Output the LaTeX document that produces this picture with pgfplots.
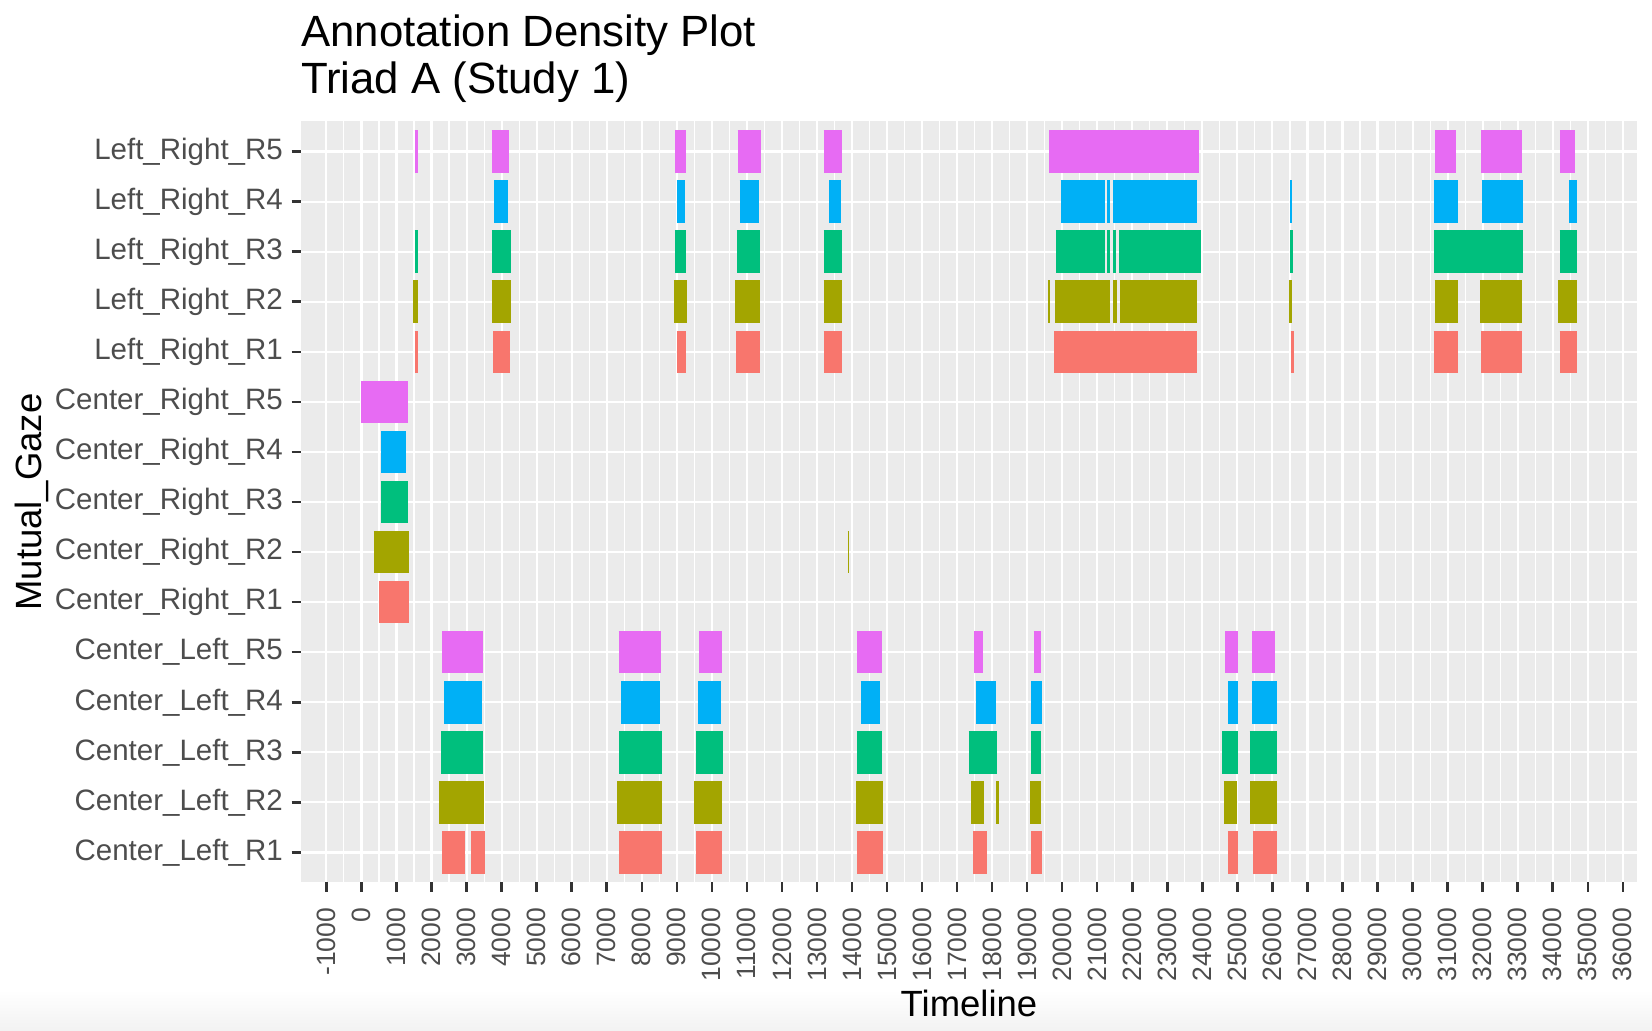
\documentclass[border=0pt]{standalone}
\usepackage{fontspec}
\setmainfont{Liberation Sans}
\usepackage{pgfplots}
\pgfplotsset{compat=1.18}

% ggplot2 default hue palette for the five raters
\definecolor{cR1}{HTML}{F8766D}
\definecolor{cR2}{HTML}{A3A500}
\definecolor{cR3}{HTML}{00BF7D}
\definecolor{cR4}{HTML}{00B0F6}
\definecolor{cR5}{HTML}{E76BF3}
\definecolor{panelbg}{HTML}{EBEBEB}
\definecolor{tickgray}{HTML}{333333}
\definecolor{labelgray}{HTML}{4D4D4D}

% each annotation is a thick horizontal segment (start,row) -- (end,row)
\pgfplotsset{annot/.style={draw=#1, line width=17.0pt, line cap=butt, mark=none, unbounded coords=jump}}

\begin{document}
\begin{tikzpicture}[x=1pt,y=1pt]
\path[use as bounding box] (0,0) rectangle (660.8,412);
% faint shade along the bottom edge
\shade[top color=white, bottom color=black!5, draw=none] (0,0) rectangle (660.8,16);

\begin{axis}[
  at={(120.28pt,59.0pt)}, anchor=south west,
  scale only axis, width=534.64pt, height=304.4pt,
  xmin=-1734, xmax=36414, ymin=0.4, ymax=15.6,
  axis background/.style={fill=panelbg},
  axis line style={draw=none},
  tick pos=left, tick align=outside,
  major tick length=3.6pt,
  minor tick length=0pt,
  xtick={-1000,0,...,36000},
  minor x tick num=1,
  ytick={1,...,15},
  yticklabels={Center\_Left\_R1,Center\_Left\_R2,Center\_Left\_R3,Center\_Left\_R4,Center\_Left\_R5,
    Center\_Right\_R1,Center\_Right\_R2,Center\_Right\_R3,Center\_Right\_R4,Center\_Right\_R5,
    Left\_Right\_R1,Left\_Right\_R2,Left\_Right\_R3,Left\_Right\_R4,Left\_Right\_R5},
  grid=both,
  major grid style={draw=white, line width=0.85pt},
  minor grid style={draw=white, line width=0.45pt},
  major tick style={draw=tickgray, line width=1.0pt},
  ticklabel style={text=labelgray},
  yticklabel style={font=\fontsize{11.8}{14}\selectfont},
  xticklabel style={font=\fontsize{10.6}{13}\selectfont, rotate=90, anchor=east},
  xticklabel shift=3pt,
  /pgf/number format/assume math mode=true,
  /pgf/number format/1000 sep={},
  scaled x ticks=false,
]

% ---------- R1 ----------
\addplot[annot=cR1] coordinates {
 (1520,11) (1622,11) (0,nan)
 (3763,11) (4252,11) (0,nan)
 (9000,11) (9275,11) (0,nan)
 (10703,11) (11375,11) (0,nan)
 (13188,11) (13702,11) (0,nan)
 (19772,11) (23844,11) (0,nan)
 (26523,11) (26614,11) (0,nan)
 (30598,11) (31292,11) (0,nan)
 (31958,11) (33118,11) (0,nan)
 (34193,11) (34697,11) (0,nan)
 (505,6) (1350,6) (0,nan)
 (2311,1) (2948,1) (0,nan)
 (3139,1) (3529,1) (0,nan)
 (7352,1) (8579,1) (0,nan)
 (9558,1) (10281,1) (0,nan)
 (14143,1) (14876,1) (0,nan)
 (17453,1) (17843,1) (0,nan)
 (19117,1) (19422,1) (0,nan)
 (24729,1) (25024,1) (0,nan)
 (25442,1) (26137,1)
};

% ---------- R2 ----------
\addplot[annot=cR2] coordinates {
 (1480,12) (1622,12) (0,nan)
 (3712,12) (4262,12) (0,nan)
 (8918,12) (9285,12) (0,nan)
 (10672,12) (11385,12) (0,nan)
 (13188,12) (13718,12) (0,nan)
 (19606,12) (19651,12) (0,nan)
 (19787,12) (21362,12) (0,nan)
 (21453,12) (21574,12) (0,nan)
 (21649,12) (23860,12) (0,nan)
 (26478,12) (26569,12) (0,nan)
 (30626,12) (31283,12) (0,nan)
 (31929,12) (33118,12) (0,nan)
 (34164,12) (34688,12) (0,nan)
 (353,7) (1357,7) (0,nan)
 (13882,7) (13926,7) (0,nan)
 (2207,2) (3491,2) (0,nan)
 (7305,2) (8569,2) (0,nan)
 (9501,2) (10281,2) (0,nan)
 (14124,2) (14885,2) (0,nan)
 (17405,2) (17767,2) (0,nan)
 (18119,2) (18195,2) (0,nan)
 (19089,2) (19403,2) (0,nan)
 (24615,2) (24995,2) (0,nan)
 (25366,2) (26127,2)
};

% ---------- R3 ----------
\addplot[annot=cR3] coordinates {
 (1520,13) (1622,13) (0,nan)
 (3722,13) (4262,13) (0,nan)
 (8948,13) (9275,13) (0,nan)
 (10713,13) (11375,13) (0,nan)
 (13188,13) (13718,13) (0,nan)
 (19818,13) (21226,13) (0,nan)
 (21286,13) (21362,13) (0,nan)
 (21438,13) (21543,13) (0,nan)
 (21634,13) (23965,13) (0,nan)
 (26508,13) (26584,13) (0,nan)
 (30617,13) (33147,13) (0,nan)
 (34193,13) (34688,13) (0,nan)
 (549,8) (1335,8) (0,nan)
 (2264,3) (3481,3) (0,nan)
 (7362,3) (8569,3) (0,nan)
 (9558,3) (10310,3) (0,nan)
 (14143,3) (14847,3) (0,nan)
 (17329,3) (18138,3) (0,nan)
 (19117,3) (19403,3) (0,nan)
 (24567,3) (25014,3) (0,nan)
 (25347,3) (26127,3)
};

% ---------- R4 ----------
\addplot[annot=cR4] coordinates {
 (3793,14) (4191,14) (0,nan)
 (9000,14) (9244,14) (0,nan)
 (10794,14) (11354,14) (0,nan)
 (13354,14) (13687,14) (0,nan)
 (19954,14) (21226,14) (0,nan)
 (21286,14) (21362,14) (0,nan)
 (21453,14) (23860,14) (0,nan)
 (26508,14) (26569,14) (0,nan)
 (30617,14) (31283,14) (0,nan)
 (31967,14) (33156,14) (0,nan)
 (34459,14) (34688,14) (0,nan)
 (571,9) (1259,9) (0,nan)
 (2359,4) (3452,4) (0,nan)
 (7419,4) (8531,4) (0,nan)
 (9616,4) (10272,4) (0,nan)
 (14248,4) (14809,4) (0,nan)
 (17529,4) (18119,4) (0,nan)
 (19117,4) (19412,4) (0,nan)
 (24739,4) (25024,4) (0,nan)
 (25414,4) (26127,4)
};

% ---------- R5 ----------
\addplot[annot=cR5] coordinates {
 (1520,15) (1602,15) (0,nan)
 (3712,15) (4222,15) (0,nan)
 (8959,15) (9275,15) (0,nan)
 (10733,15) (11395,15) (0,nan)
 (13188,15) (13702,15) (0,nan)
 (19636,15) (23890,15) (0,nan)
 (30645,15) (31244,15) (0,nan)
 (31958,15) (33118,15) (0,nan)
 (34202,15) (34640,15) (0,nan)
 (0,10) (662,10) (0,nan)
 (680,10) (1325,10) (0,nan)
 (2311,5) (3481,5) (0,nan)
 (7342,5) (8560,5) (0,nan)
 (9635,5) (10291,5) (0,nan)
 (14143,5) (14847,5) (0,nan)
 (17491,5) (17738,5) (0,nan)
 (19184,5) (19403,5) (0,nan)
 (24653,5) (25024,5) (0,nan)
 (25423,5) (26080,5)
};
\end{axis}

% titles
\node[anchor=base west, inner sep=0pt, font=\fontsize{17.5}{21}\selectfont] at (120.3,393.3) {Annotation Density Plot};
\node[anchor=base west, inner sep=0pt, font=\fontsize{17.5}{21}\selectfont] at (120.3,374.7) {Triad A (Study 1)};
\node[anchor=base, inner sep=0pt, font=\fontsize{14.6}{17}\selectfont] at (387.6,5.6) {Timeline};
\node[rotate=90, anchor=base, inner sep=0pt, font=\fontsize{14.6}{17}\selectfont] at (16.6,211.2) {Mutual\_Gaze};
\end{tikzpicture}
\end{document}
